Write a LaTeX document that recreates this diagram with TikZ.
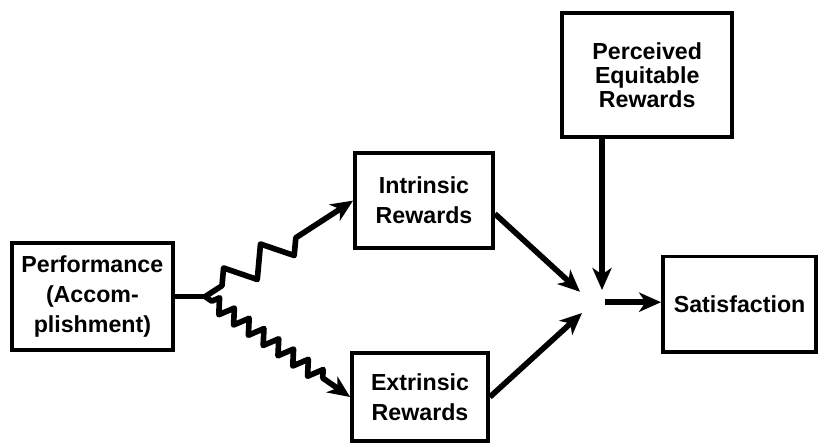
\documentclass[tikz,border=0pt]{standalone}
\usepackage{fontspec}
\setmainfont{Liberation Sans}
\usetikzlibrary{arrows.meta,decorations.pathmorphing}

\begin{document}
\begin{tikzpicture}[
    caixa/.style={draw, rectangle, line width=2.7pt, align=center, inner sep=0pt,
      font=\bfseries\fontsize{16.5}{21.5}\selectfont},
    seta/.style={-{Stealth[length=0.55cm,width=0.48cm,inset=0.16cm]},
      line width=4pt, line join=round},
  ]
      \useasboundingbox (0,0) rectangle (20.475,11.125);
      % Boxes
      \node[caixa, minimum width=4.03cm, minimum height=2.68cm] (perf) at (2.31, 3.71)
        {Performance\\(Accom-\\plishment)};
      \node[caixa, minimum width=3.45cm, minimum height=2.38cm] (intr) at (10.6, 6.11)
        {Intrinsic\\Rewards};
      \node[caixa, minimum width=3.4cm, minimum height=2.2cm] (extr) at (10.5, 1.2)
        {Extrinsic\\Rewards};
      \node[caixa, minimum width=4.25cm, minimum height=3.1cm,
        font=\bfseries\fontsize{16.5}{17}\selectfont] (perc) at (16.18, 9.25)
        {Perceived\\Equitable\\Rewards};
      \node[caixa, minimum width=3.83cm, minimum height=2.38cm] (sat) at (18.49, 3.52)
        {Satisfaction};
      % Split point and meeting point
      \coordinate (split) at (5.13, 3.71);
      \coordinate (hubA) at (14.5, 3.83);
      \coordinate (hubB) at (14.55, 3.3);
      \coordinate (hubC) at (15.05, 3.875);
      \coordinate (hubD) at (15.13, 3.57);
      % Performance -> rewards
      \draw[line width=4pt] (perf.east) -- (split);
      \draw[seta, decorate, decoration={zigzag, segment length=1.1cm, amplitude=0.35cm,
        pre length=0.5cm, post length=1.5cm}] (split) -- (intr.west);
      \draw[seta, decorate, decoration={zigzag, segment length=0.45cm, amplitude=0.18cm,
        pre length=0.2cm, post length=0.8cm}] (split) -- (extr.west);
      % Rewards -> satisfaction
      \draw[seta] ([yshift=-0.33cm]intr.east) -- (hubA);
      \draw[seta] (extr.east) -- (hubB);
      \draw[seta] (perc.south -| hubC) -- (hubC);
      \draw[seta] (hubD) -- (sat.west |- hubD);
    \end{tikzpicture}
\end{document}
